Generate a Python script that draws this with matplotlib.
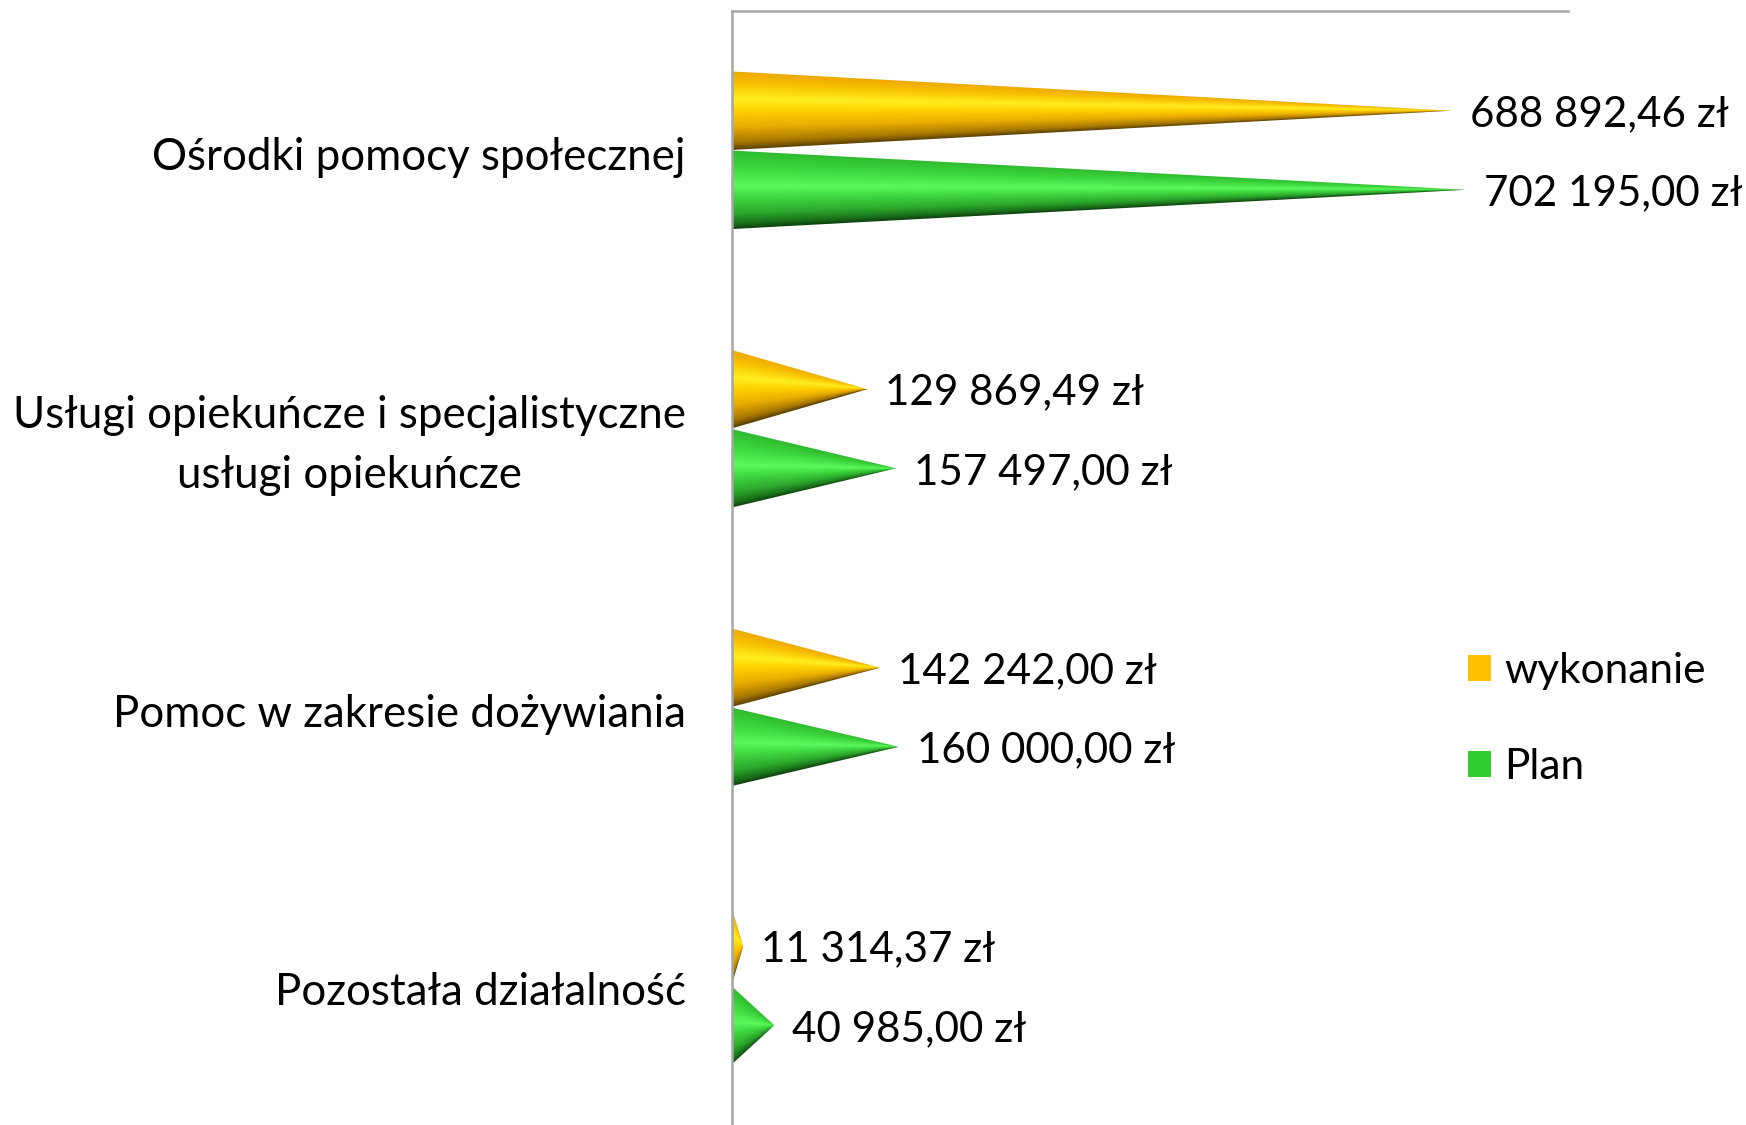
import numpy as np
import matplotlib.pyplot as plt
from matplotlib.colors import LinearSegmentedColormap
from matplotlib.patches import Polygon, Patch
from matplotlib.transforms import ScaledTranslation

plt.rcParams['font.family'] = ['Lato', 'DejaVu Sans']

# data
categories = ['Ośrodki pomocy społecznej',
              'Usługi opiekuńcze i specjalistyczne\nusługi opiekuńcze',
              'Pomoc w zakresie dożywiania',
              'Pozostała działalność']
wykonanie = [688892.46, 129869.49, 142242.00, 11314.37]
plan = [702195.00, 157497.00, 160000.00, 40985.00]
series_names = ['wykonanie', 'Plan']

yellow_stops = [(0.0, '#EDA800'), (0.15, '#F8C000'), (0.35, '#FFEE20'), (0.5, '#FFD000'),
                (0.7, '#EAAE00'), (0.9, '#A87800'), (1.0, '#5A4000')]
green_stops = [(0.0, '#2EBA2E'), (0.2, '#3CD43C'), (0.45, '#5CF85C'), (0.6, '#40D840'),
               (0.8, '#2CA82C'), (0.93, '#1A701A'), (1.0, '#0E400E')]
cm_yellow = LinearSegmentedColormap.from_list('y', yellow_stops)
cm_green = LinearSegmentedColormap.from_list('g', green_stops)


def fmt(v):
    s = f"{v:,.2f}".replace(',', ' ').replace('.', ',')
    return s + ' zł'


def cone(ax, yc, h, val, cmap):
    # shaded cone: gradient image clipped to a triangle
    W, H = 400, 200
    xs = (np.arange(W) + 0.5) / W * val
    ys = yc - h + (np.arange(H) + 0.5) / H * 2 * h
    xx, yy = np.meshgrid(xs, ys)
    half = np.maximum(h * (1 - xx / val), 1e-9)
    v = np.clip((yy - yc) / half, -1, 1)
    img = cmap((v + 1) / 2)
    im = ax.imshow(img, extent=(0, val, yc - h, yc + h), origin='lower',
                   aspect='auto', interpolation='bilinear', zorder=2)
    poly = Polygon([(0, yc - h), (val, yc), (0, yc + h)], closed=True,
                   facecolor='none', edgecolor='none')
    ax.add_patch(poly)
    im.set_clip_path(poly)


fig = plt.figure(figsize=(17.46, 11.25), dpi=100)
ax = fig.add_axes([731.5 / 1746, 0.0, (1568 - 731.5) / 1746, 1 - 11 / 1125])

h = 0.141
off = 0.142
for i in range(len(categories)):
    cone(ax, i - off, h, wykonanie[i], cm_yellow)
    cone(ax, i + off, h, plan[i], cm_green)
    ax.annotate(fmt(wykonanie[i]), (wykonanie[i], i - off), xytext=(13, -2.5),
                textcoords='offset points', va='center', ha='left', fontsize=30.3)
    ax.annotate(fmt(plan[i]), (plan[i], i + off), xytext=(13, -2.5),
                textcoords='offset points', va='center', ha='left', fontsize=30.3)

ax.set_xlim(0, 800000)
ax.set_ylim(3.5, -0.5)
ax.set_yticks(range(len(categories)))
ax.set_yticklabels(categories, fontsize=31.6, multialignment='center', linespacing=1.6)
ax.tick_params(axis='y', length=0, pad=33)
shift = ScaledTranslation(0, -2 / 72, fig.dpi_scale_trans)
for lab in ax.get_yticklabels():
    lab.set_transform(lab.get_transform() + shift)
ax.set_xticks([])
for s in ['right', 'bottom']:
    ax.spines[s].set_visible(False)
for s in ['left', 'top']:
    ax.spines[s].set_color('#A6A6A6')
    ax.spines[s].set_linewidth(1.8)

handles = [Patch(facecolor='#FFC000'), Patch(facecolor='#33CC33')]
fig.legend(handles, series_names, loc='center left', bbox_to_anchor=(1468 / 1746, 1 - 719 / 1125),
           frameon=False, fontsize=30.5, handlelength=0.55, handleheight=0.55,
           handletextpad=0.3, labelspacing=1.38, borderpad=0, borderaxespad=0)

fig.savefig('out.png', dpi=100)
